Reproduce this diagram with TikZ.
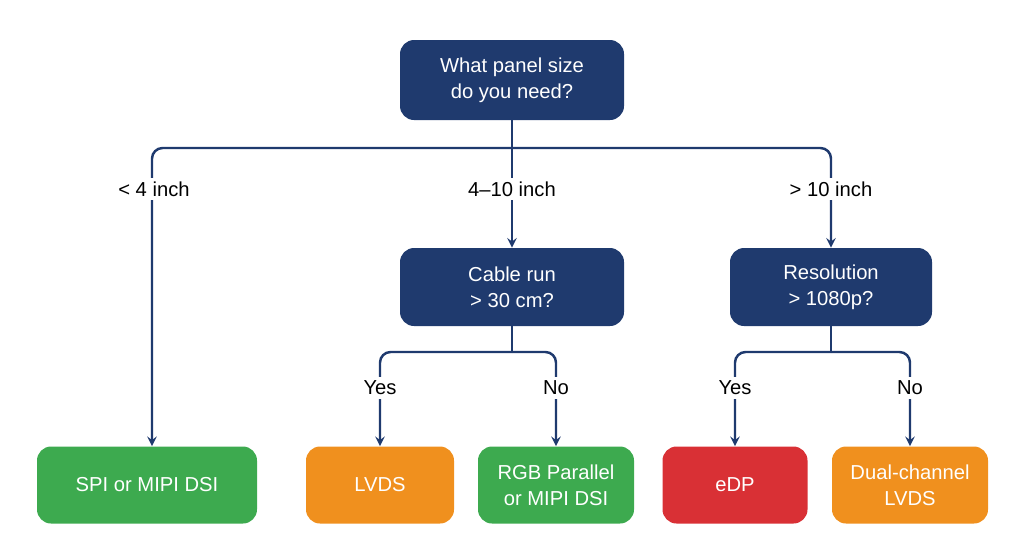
\documentclass[tikz,border=0pt]{standalone}
\usepackage{fontspec}
\setmainfont{Liberation Sans}
\usetikzlibrary{positioning}
\definecolor{navy}{HTML}{1F3A6E}
\definecolor{leafgreen}{HTML}{3DAA4F}
\definecolor{leaforange}{HTML}{F0901E}
\definecolor{leafred}{HTML}{D93035}
\tikzstyle{question}=[rectangle,rounded corners=8,fill=navy,text=white,align=center,font=\fontsize{11.5}{15}\selectfont]
\tikzstyle{leaf}=[rectangle,rounded corners=8,text=white,align=center,font=\fontsize{11.5}{15}\selectfont]
\tikzstyle{branch}=[-,draw=navy,line width=1.4,rounded corners=6]
\tikzstyle{inarrow}=[->,>=stealth,draw=navy,line width=1.4,rounded corners=6]
\tikzstyle{tag}=[fill=white,inner sep=2pt,font=\fontsize{11.5}{14}\selectfont]
\begin{document}
\begin{tikzpicture}[x=0.02cm,y=-0.02cm]
	\useasboundingbox (0,0) rectangle (1024,559);
	% questions
	\node [style=question,minimum width=224*0.02cm,minimum height=80*0.02cm] (size) at (512,80) {What panel size\\do you need?};
	\node [style=question,minimum width=224*0.02cm,minimum height=78*0.02cm] (cable) at (512,287) {Cable run\\> 30 cm?};
	\node [style=question,minimum width=202*0.02cm,minimum height=78*0.02cm] (res) at (831,287) {Resolution\\> 1080p?};
	% answers
	\node [style=leaf,fill=leafgreen,minimum width=220*0.02cm,minimum height=77*0.02cm] (spi) at (147,485) {SPI or MIPI DSI};
	\node [style=leaf,fill=leaforange,minimum width=148*0.02cm,minimum height=77*0.02cm] (lvds) at (380,485) {LVDS};
	\node [style=leaf,fill=leafgreen,minimum width=156*0.02cm,minimum height=77*0.02cm] (rgb) at (556,485) {RGB Parallel\\or MIPI DSI};
	\node [style=leaf,fill=leafred,minimum width=145*0.02cm,minimum height=77*0.02cm] (edp) at (735,485) {eDP};
	\node [style=leaf,fill=leaforange,minimum width=156*0.02cm,minimum height=77*0.02cm] (dual) at (910,485) {Dual-channel\\LVDS};
	% split points
	\coordinate (s0) at (512,148);
	\coordinate (s1) at (512,352);
	\coordinate (s2) at (831,352);
	% edges
	\draw [style=branch] (size) -- (s0);
	\draw [style=inarrow] (s0) -| (spi.north -| 152,0);
	\draw [style=inarrow] (s0) -- (cable);
	\draw [style=inarrow] (s0) -| (res);
	\draw [style=branch] (cable) -- (s1);
	\draw [style=inarrow] (s1) -| (lvds);
	\draw [style=inarrow] (s1) -| (rgb);
	\draw [style=branch] (res) -- (s2);
	\draw [style=inarrow] (s2) -| (edp);
	\draw [style=inarrow] (s2) -| (dual);
	% labels
	\node [style=tag] (l1) at (154,189) {< 4 inch};
	\node [style=tag] (l2) at (512,189) {4–10 inch};
	\node [style=tag] (l3) at (831,189) {> 10 inch};
	\node [style=tag] (y1) at (380,388) {Yes};
	\node [style=tag] (n1) at (556,388) {No};
	\node [style=tag] (y2) at (735,388) {Yes};
	\node [style=tag] (n2) at (910,388) {No};
\end{tikzpicture}
\end{document}
